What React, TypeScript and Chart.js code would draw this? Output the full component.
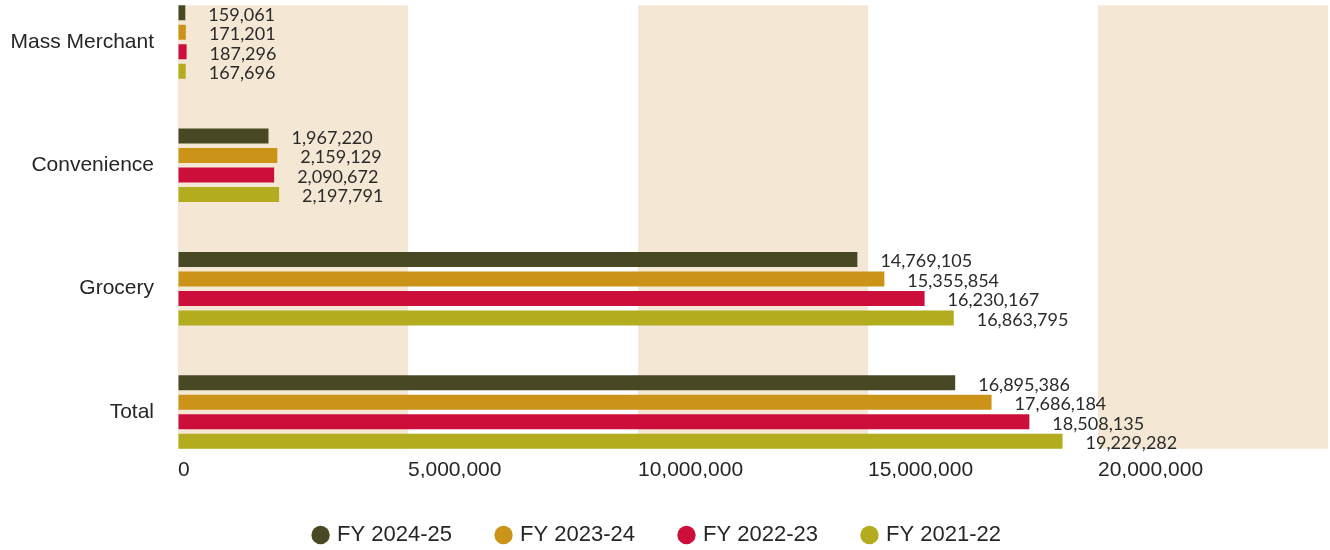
import React, { useEffect, useRef } from 'react';
import { Chart, registerables } from 'chart.js';

Chart.register(...registerables);

// ---- data ----
const categories = ['Mass Merchant', 'Convenience', 'Grocery', 'Total'];
const seriesNames = ['FY 2024-25', 'FY 2023-24', 'FY 2022-23', 'FY 2021-22'];
const fy2425 = [159061, 1967220, 14769105, 16895386];
const fy2324 = [171201, 2159129, 15355854, 17686184];
const fy2223 = [187296, 2090672, 16230167, 18508135];
const fy2122 = [167696, 2197791, 16863795, 19229282];
const seriesValues = [fy2425, fy2324, fy2223, fy2122];
const seriesColors = ['#494824', '#cb9418', '#cc0e3a', '#b2ac1e'];
const axisMin = 0;
const axisMax = 25000000;
const axisStep = 5000000;

// ---- style ----
const bandColor = '#f4e8d5';
const textColor = '#262626';
const labelColor = '#2b2b2b';
const sansFamily = "'Liberation Sans', Arial, sans-serif";
const valueFamily = "Lato, 'Open Sans', sans-serif";

const fmt = (v: number) => v.toLocaleString('en-US');

const bandPlugin = {
  id: 'bands',
  beforeDatasetsDraw(chart: any) {
    const ctx = chart.ctx;
    const xs = chart.scales.x;
    const firstMeta = chart.getDatasetMeta(0);
    const lastMeta = chart.getDatasetMeta(chart.data.datasets.length - 1);
    const first: any = firstMeta.data[0];
    const last: any = lastMeta.data[lastMeta.data.length - 1];
    if (!first || !last) return;
    const top = first.y - first.height / 2;
    const bottom = last.y + last.height / 2;
    ctx.save();
    ctx.fillStyle = bandColor;
    for (let v = axisMin; v < axisMax; v += 2 * axisStep) {
      const x1 = xs.getPixelForValue(v);
      const x2 = xs.getPixelForValue(Math.min(v + axisStep, axisMax));
      ctx.fillRect(x1, top, x2 - x1, bottom - top);
    }
    ctx.restore();
  },
};

const valueLabelPlugin = {
  id: 'valueLabels',
  afterDatasetsDraw(chart: any) {
    const ctx = chart.ctx;
    ctx.save();
    ctx.font = `18px ${valueFamily}`;
    ctx.fillStyle = labelColor;
    ctx.textAlign = 'left';
    ctx.textBaseline = 'middle';
    chart.data.datasets.forEach((ds: any, i: number) => {
      const meta = chart.getDatasetMeta(i);
      meta.data.forEach((el: any, j: number) => {
        ctx.fillText(fmt(ds.data[j]), el.x + 23, el.y + 2);
      });
    });
    ctx.restore();
  },
};

export default function App() {
  const ref = useRef<HTMLCanvasElement>(null);

  useEffect(() => {
    if (!ref.current) return;
    const chart = new Chart(ref.current, {
      type: 'bar',
      data: {
        labels: categories,
        datasets: seriesNames.map((name, i) => ({
          label: name,
          data: seriesValues[i],
          backgroundColor: seriesColors[i],
          borderColor: seriesColors[i],
          borderWidth: 0,
          clip: false as any,
        })),
      },
      options: {
        indexAxis: 'y',
        animation: false,
        responsive: true,
        maintainAspectRatio: false,
        events: [],
        layout: { padding: { left: -20, right: 2, top: 38, bottom: 0 } },
        datasets: {
          bar: { categoryPercentage: 0.6324, barPercentage: 0.7692 },
        },
        scales: {
          x: {
            type: 'linear',
            min: axisMin,
            max: axisMax,
            grid: {
              display: true,
              drawOnChartArea: false,
              drawTicks: true,
              tickLength: 50,
              color: 'transparent',
            },
            border: { display: false },
            ticks: {
              stepSize: axisStep,
              align: 'start',
              padding: 0,
              maxRotation: 0,
              autoSkip: false,
              color: textColor,
              font: { family: sansFamily, size: 21, lineHeight: '16px' as any },
              callback: (v: any) => (Number(v) >= axisMax ? '' : fmt(Number(v))),
            },
          },
          y: {
            type: 'category',
            offset: false,
            grid: {
              display: true,
              drawOnChartArea: false,
              drawTicks: true,
              tickLength: 24,
              color: 'transparent',
            },
            border: { display: false },
            ticks: {
              padding: 0,
              color: textColor,
              font: { family: sansFamily, size: 21 },
            },
            afterFit: (scale: any) => {
              scale.width = 190;
            },
          },
        },
        plugins: {
          legend: {
            position: 'bottom',
            labels: {
              usePointStyle: true,
              pointStyle: 'circle',
              boxWidth: 11,
              boxHeight: 13,
              padding: 46,
              color: textColor,
              font: { family: sansFamily, size: 22 },
            },
          },
          tooltip: { enabled: false },
        },
      } as any,
      plugins: [bandPlugin, valueLabelPlugin],
    });
    return () => chart.destroy();
  }, []);

  return (
    <div style={{ position: 'fixed', left: 8, top: 4, width: 1322, height: 552 }}>
      <canvas ref={ref} />
    </div>
  );
}
